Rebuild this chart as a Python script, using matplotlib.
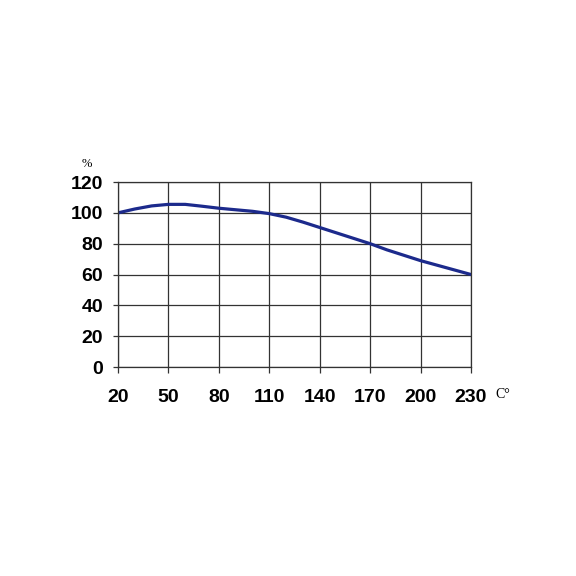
import matplotlib
matplotlib.use("Agg")
import matplotlib.pyplot as plt

temps = [20, 30, 40, 50, 60, 70, 80, 90, 100, 110, 120, 130, 140, 150, 160, 170, 180, 190, 200, 210, 220, 230]
values = [100, 102.5, 104.5, 105.5, 105.5, 104.3, 103, 102, 101, 99.5, 97.2, 94, 90.5, 87, 83.5, 80, 76, 72.5, 69, 66, 63, 60]
xticks = [20, 50, 80, 110, 140, 170, 200, 230]
yticks = [0, 20, 40, 60, 80, 100, 120]

fig = plt.figure(figsize=(5.76, 5.76), dpi=100)
ax = fig.add_axes([0.2049, 0.3628, 0.6128, 0.3212])
ax.plot(temps, values, color="#1c2a8c", lw=2.3, solid_capstyle="round")
ax.set_xlim(20, 230)
ax.set_ylim(0, 120)
ax.set_xticks(xticks)
ax.set_yticks(yticks)
ax.set_xticklabels([str(t) for t in xticks], fontfamily="Liberation Sans", fontweight="bold", fontsize=14)
ax.set_yticklabels([str(t) for t in yticks], fontfamily="Liberation Sans", fontweight="bold", fontsize=14)
ax.grid(True, color="#333333", lw=0.9)
ax.set_axisbelow(True)
for s in ax.spines.values():
    s.set_color("#333333")
    s.set_linewidth(0.9)
ax.tick_params(axis="x", length=4.5, width=0.9, color="#333333", pad=11)
ax.tick_params(axis="y", length=3.6, width=0.9, color="#333333", pad=7)
fig.text(87 / 576, 1 - 164 / 576, "%", fontfamily="Liberation Serif", fontsize=9, ha="center", va="center")
fig.text(503 / 576, 1 - 395 / 576, "C°", fontfamily="Liberation Serif", fontsize=10, ha="center", va="center")
fig.savefig("out.png", dpi=100)
